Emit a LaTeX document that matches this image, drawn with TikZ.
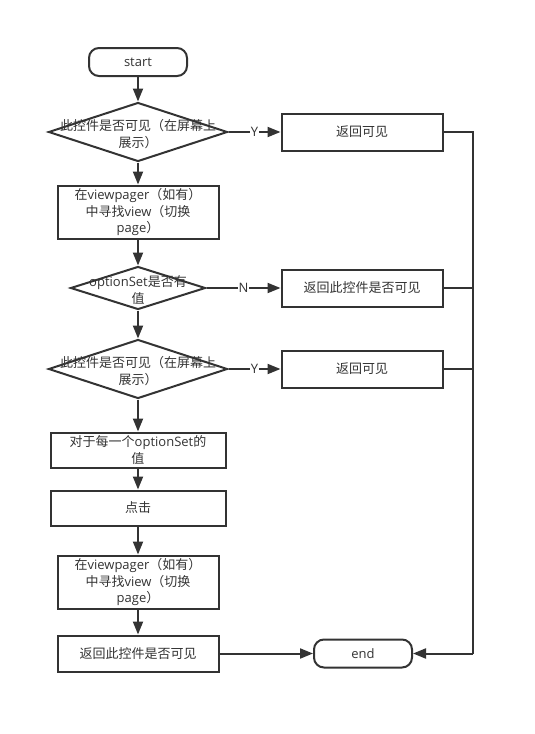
\documentclass[tikz,border=0pt]{standalone}
\usepackage{fontspec}
\setmainfont{Noto Sans CJK SC}
\newfontfamily\latin{Open Sans}
\usetikzlibrary{shapes.geometric, positioning, arrows.meta}
\definecolor{linegray}{HTML}{333333}
\newcommand{\spill}[1]{\smash{\makebox[0pt]{\raisebox{-6.5pt}{\begin{tabular}{@{}c@{}}#1\end{tabular}}}}}
\tikzset{
    flow edge/.style = {draw=linegray, line width=2pt},
}
\tikzset{
    terminal/.style = {flow edge, rounded corners=10pt, minimum width=98pt, minimum height=28pt, inner sep=0pt},
    process/.style = {flow edge, minimum width=161pt, minimum height=37pt, inner sep=0pt, align=center},
    decision/.style = {flow edge, shape=diamond, inner sep=0pt},
    flow/.style = {flow edge, -{Triangle[length=13pt, width=10pt]}},
    answer/.style = {fill=white, inner sep=1pt, font=\fontsize{13}{16.5}\latin},
}

\begin{document}
\begin{tikzpicture}[x=1pt, y=-1pt, font=\fontsize{13}{16.5}\selectfont, text=linegray]
        \useasboundingbox (0, 0) rectangle (535, 734);
        \node[terminal] (start) at (138, 62) {\latin start};
        \node[decision, minimum width=179pt, minimum height=59pt] (vis1) at (138, 132) {\spill{此控件是否可见（在屏幕上\\展示）}};
        \node[process, minimum height=53pt] (find1) at (138, 212) {在{\latin viewpager}（如有）\\中寻找{\latin view}（切换\\{\latin page}）};
        \node[decision, minimum width=135pt, minimum height=43pt] (opt) at (138, 288) {\spill{{\latin optionSet}是否有\\值}};
        \node[decision, minimum width=179pt, minimum height=59pt] (vis2) at (138, 369) {\spill{此控件是否可见（在屏幕上\\展示）}};
        \node[process, minimum width=175pt, minimum height=35pt] (each) at (138, 450) {对于每一个{\latin optionSet}的\\值};
        \node[process, minimum width=175pt, minimum height=35pt] (click) at (138, 508) {点击};
        \node[process, minimum height=53pt] (find2) at (138, 582) {在{\latin viewpager}（如有）\\中寻找{\latin view}（切换\\{\latin page}）};
        \node[process, minimum height=36pt] (ret) at (138, 653.5) {返回此控件是否可见};
        \node[terminal] (stop) at (363, 653.5) {\latin end};
        \node[process] (vis1ret) at (362, 132) {返回可见};
        \node[process] (optret) at (362, 288) {返回此控件是否可见};
        \node[process] (vis2ret) at (362, 369) {返回可见};
        \coordinate (merge) at (473, 653.5);
        \draw[flow] (start) to (vis1);
        \draw[flow] (vis1) to (find1);
        \draw[flow] (find1) to (opt);
        \draw[flow] (opt) to (vis2);
        \draw[flow] (vis2) to (each);
        \draw[flow] (each) to (click);
        \draw[flow] (click) to (find2);
        \draw[flow] (find2) to (ret);
        \draw[flow] (ret) to (stop);
        \draw[flow] (vis1) to node[answer] {Y} (vis1ret);
        \draw[flow] (opt) to node[answer] {N} (optret);
        \draw[flow] (vis2) to node[answer] {Y} (vis2ret);
        \draw[flow edge] (vis1ret.east) -| (merge);
        \draw[flow edge] (optret.east) -- (optret.east -| merge);
        \draw[flow edge] (vis2ret.east) -- (vis2ret.east -| merge);
        \draw[flow] (merge) -- (stop.east);
    \end{tikzpicture}
\end{document}
